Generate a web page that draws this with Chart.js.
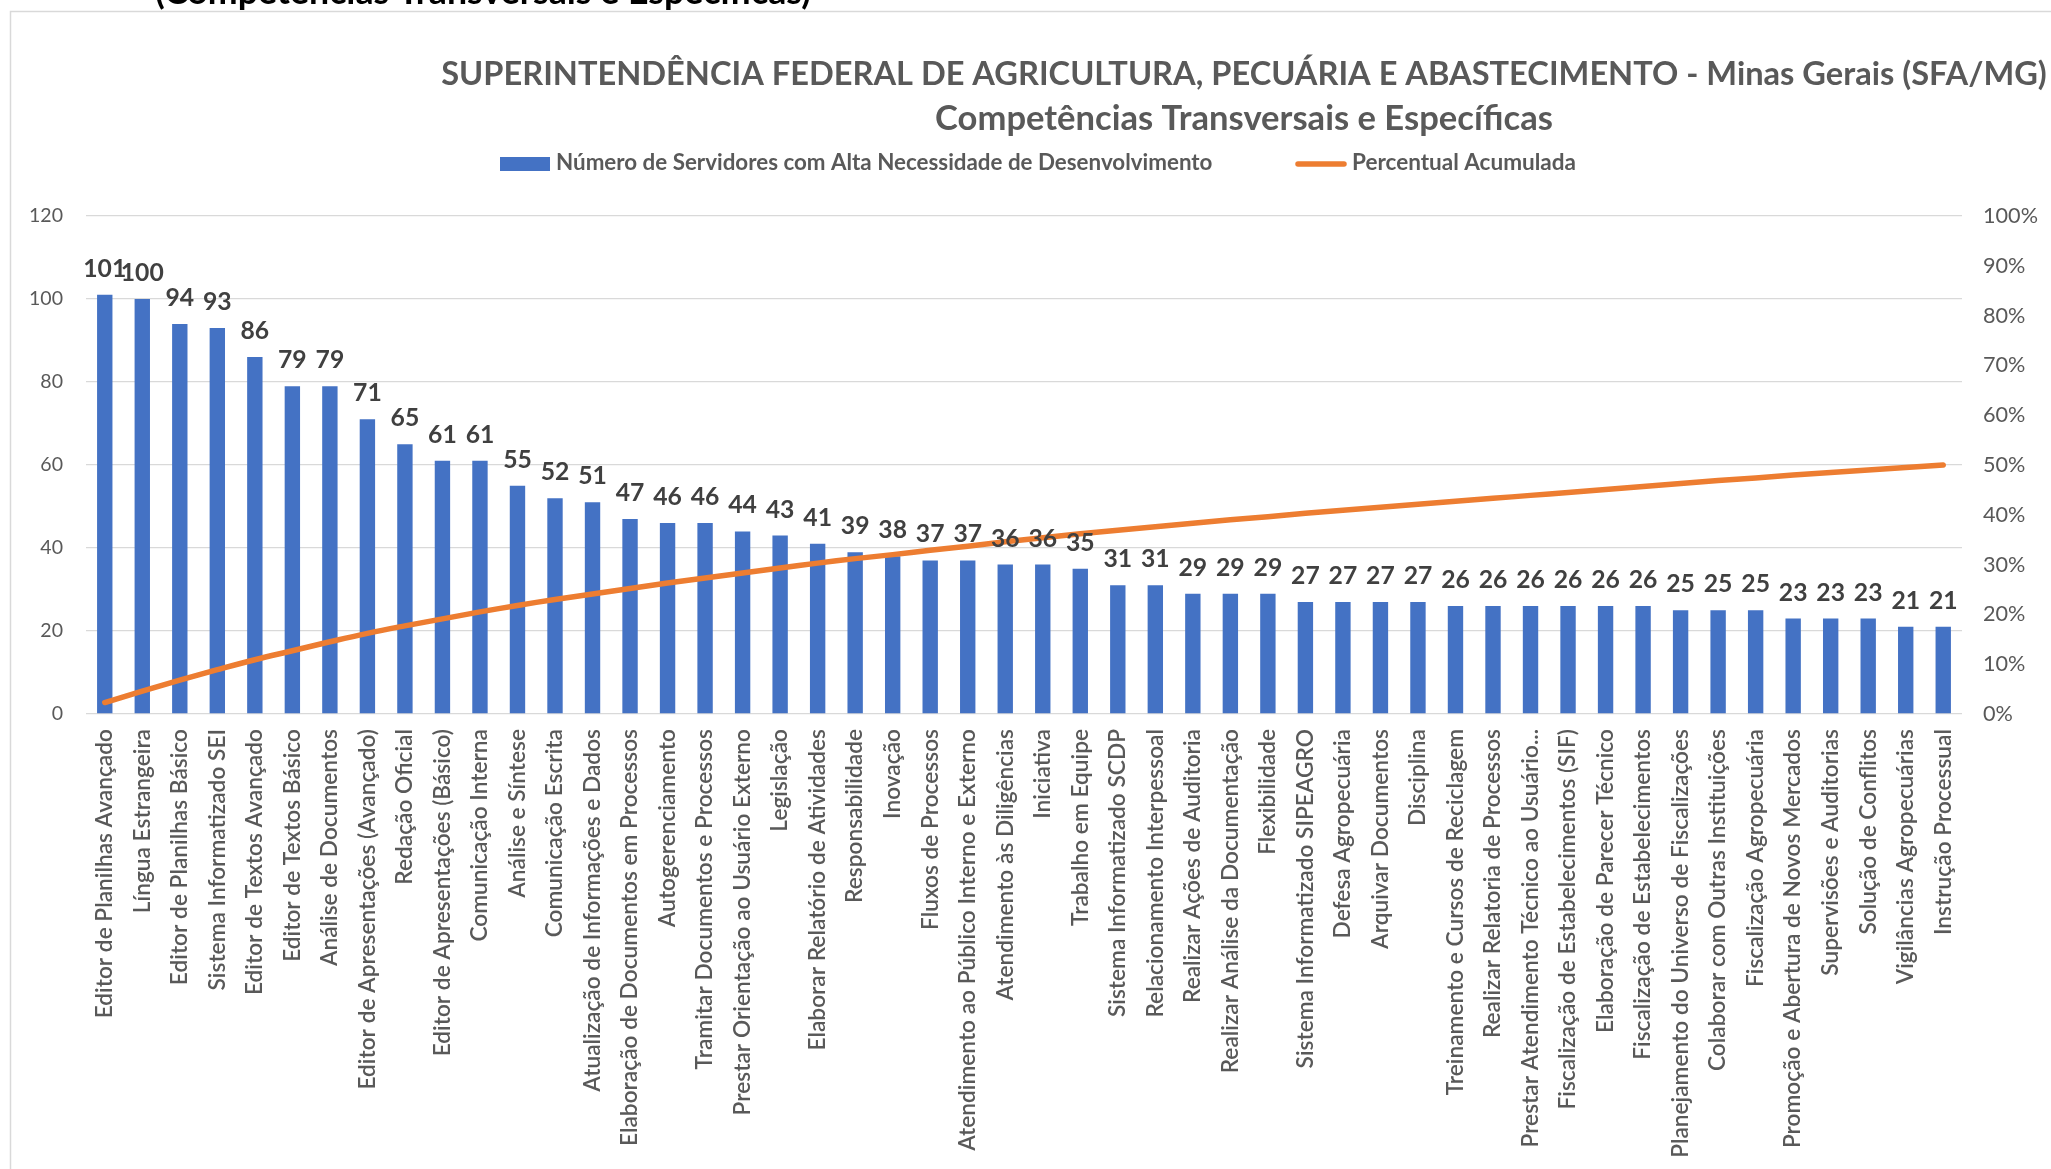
<!DOCTYPE html>
<html>
<head>
<meta charset="utf-8">
<script src="https://cdn.jsdelivr.net/npm/chart.js@4.4.1/dist/chart.umd.min.js"></script>
<style>
html,body{margin:0;padding:0;background:#fff;overflow:hidden;}
#wrap{position:relative;width:2051px;height:1169px;}
</style>
</head>
<body>
<div id="wrap"><canvas id="c"></canvas></div>
<script>
const categories = [
  "Editor de Planilhas Avançado","Língua Estrangeira","Editor de Planilhas Básico","Sistema Informatizado SEI",
  "Editor de Textos Avançado","Editor de Textos Básico","Análise de Documentos","Editor de Apresentações (Avançado)",
  "Redação Oficial","Editor de Apresentações (Básico)","Comunicação Interna","Análise e Síntese",
  "Comunicação Escrita","Atualização de Informações e Dados","Elaboração de Documentos em Processos","Autogerenciamento",
  "Tramitar Documentos e Processos","Prestar Orientação ao Usuário Externo","Legislação","Elaborar Relatório de Atividades",
  "Responsabilidade","Inovação","Fluxos de Processos","Atendimento ao Público Interno e Externo",
  "Atendimento às Diligências","Iniciativa","Trabalho em Equipe","Sistema Informatizado SCDP",
  "Relacionamento Interpessoal","Realizar Ações de Auditoria","Realizar Análise da Documentação","Flexibilidade",
  "Sistema Informatizado SIPEAGRO","Defesa Agropecuária","Arquivar Documentos","Disciplina",
  "Treinamento e Cursos de Reciclagem","Realizar Relatoria de Processos","Prestar Atendimento Técnico ao Usuário...","Fiscalização de Estabelecimentos (SIF)",
  "Elaboração de Parecer Técnico","Fiscalização de Estabelecimentos","Planejamento do Universo de Fiscalizações","Colaborar com Outras Instituições",
  "Fiscalização Agropecuária","Promoção e Abertura de Novos Mercados","Supervisões e Auditorias","Solução de Conflitos",
  "Vigilâncias Agropecuárias","Instrução Processual"
];
const servidores = [101,100,94,93,86,79,79,71,65,61,61,55,52,51,47,46,46,44,43,41,39,38,37,37,36,36,35,31,31,29,29,29,27,27,27,27,26,26,26,26,26,26,25,25,25,23,23,23,21,21];
const percentualAcumulado = [2.3,4.6,6.8,8.9,10.9,12.7,14.5,16.2,17.7,19.1,20.5,21.8,23.0,24.1,25.2,26.3,27.3,28.3,29.3,30.3,31.2,32.0,32.9,33.7,34.6,35.4,36.2,36.9,37.6,38.3,39.0,39.6,40.3,40.9,41.5,42.1,42.7,43.3,43.9,44.5,45.1,45.7,46.3,46.9,47.4,48.0,48.5,49.0,49.5,50.0];
const titleLines = ["SUPERINTENDÊNCIA FEDERAL DE AGRICULTURA, PECUÁRIA E ABASTECIMENTO - Minas Gerais (SFA/MG)","Competências Transversais e Específicas"];
const legendLabels = ["Número de Servidores com Alta Necessidade de Desenvolvimento","Percentual Acumulada"];
const topCutText = "(Competências Transversais e Específicas)";

const FONT = 'Lato, "Open Sans", "DejaVu Sans", sans-serif';
const mctx = document.createElement('canvas').getContext('2d');
function fit(text, weight, target){
  mctx.font = weight + ' 100px ' + FONT;
  return 100 * target / mctx.measureText(text).width;
}
const sTitle1 = fit(titleLines[0], 'bold', 1606);
const sTitle2 = fit(titleLines[1], 'bold', 618);
const sLeg1 = fit(legendLabels[0], 'bold', 657);
const sLeg2 = fit(legendLabels[1], 'bold', 224);
const sX = fit('Atendimento ao Público Interno e Externo', '600', 422);
const sData = fit('101', 'bold', 43);
const sY = fit('120', 'normal', 34);
const sY1 = fit('100%', 'normal', 55);
const sCut = fit(topCutText, 'bold', 656);

const BLUE = '#4472C4', ORANGE = '#ED7D31', GREY = '#595959';

const decorPlugin = {
  id: 'decor',
  beforeDraw(chart){
    const c = chart.ctx;
    c.save();
    c.fillStyle = '#fff';
    c.fillRect(0,0,chart.width,chart.height);
    c.strokeStyle = '#d9d9d9';
    c.lineWidth = 1.5;
    c.strokeRect(10.5, 11.5, 4000, 4000);
    c.restore();
  },
  afterDraw(chart){
    const c = chart.ctx;
    c.save();
    c.fillStyle = '#000';
    c.textAlign = 'left';
    c.textBaseline = 'alphabetic';
    c.font = 'bold ' + sCut + 'px ' + FONT;
    c.fillText(topCutText, 155, 4);
    c.fillStyle = GREY;
    c.textAlign = 'center';
    c.font = 'bold ' + sTitle1 + 'px ' + FONT;
    c.fillText(titleLines[0], 1244, 85);
    c.font = 'bold ' + sTitle2 + 'px ' + FONT;
    c.fillText(titleLines[1], 1244, 130);
    c.fillStyle = BLUE;
    c.fillRect(500, 157, 50, 14);
    c.fillStyle = GREY;
    c.textAlign = 'left';
    c.font = 'bold ' + sLeg1 + 'px ' + FONT;
    c.fillText(legendLabels[0], 556, 170);
    c.strokeStyle = ORANGE;
    c.lineWidth = 5.5;
    c.lineCap = 'round';
    c.beginPath();
    c.moveTo(1298, 164);
    c.lineTo(1344, 164);
    c.stroke();
    c.font = 'bold ' + sLeg2 + 'px ' + FONT;
    c.fillText(legendLabels[1], 1352, 170);
    c.restore();
  }
};

const dataLabelPlugin = {
  id: 'barValues',
  afterDatasetsDraw(chart){
    const meta = chart.getDatasetMeta(1);
    const c = chart.ctx;
    c.save();
    c.font = 'bold ' + sData + 'px ' + FONT;
    c.fillStyle = '#404040';
    c.textAlign = 'center';
    c.textBaseline = 'alphabetic';
    meta.data.forEach((el, i) => {
      c.fillText(String(servidores[i]), el.x, el.y - 18);
    });
    c.restore();
  }
};

new Chart(document.getElementById('c'), {
  data: {
    labels: categories,
    datasets: [
      {
        type: 'line', label: legendLabels[1], data: percentualAcumulado, yAxisID: 'y1',
        borderColor: ORANGE, backgroundColor: ORANGE, borderWidth: 5.5, pointRadius: 0,
        tension: 0.4, borderCapStyle: 'round', borderJoinStyle: 'round', order: 0
      },
      {
        type: 'bar', label: legendLabels[0], data: servidores, yAxisID: 'y',
        backgroundColor: BLUE, barPercentage: 0.41, categoryPercentage: 1, order: 1
      }
    ]
  },
  options: {
    responsive: true,
    maintainAspectRatio: false,
    animation: false,
    layout: { padding: { top: 216, left: 0, right: 0, bottom: 0 } },
    plugins: { legend: { display: false }, title: { display: false }, tooltip: { enabled: false } },
    scales: {
      x: {
        grid: { display: false, drawTicks: false },
        border: { display: false },
        ticks: { autoSkip: false, maxRotation: 90, minRotation: 90, padding: 15, color: GREY,
                 font: { family: FONT, size: sX, weight: '600' } },
        afterFit(s){ s.height = 455; }
      },
      y: {
        position: 'left', min: 0, max: 120,
        ticks: { stepSize: 20, padding: 23, color: GREY, font: { family: FONT, size: sY } },
        grid: { color: '#d9d9d9', lineWidth: 1.3, drawTicks: false },
        border: { display: false },
        afterFit(s){ s.width = 86; }
      },
      y1: {
        position: 'right', min: 0, max: 100,
        ticks: { stepSize: 10, padding: 21, color: GREY, font: { family: FONT, size: sY1 },
                 callback: v => v + '%' },
        grid: { display: false, drawTicks: false },
        border: { display: false },
        afterFit(s){ s.width = 89; }
      }
    }
  },
  plugins: [decorPlugin, dataLabelPlugin]
});
</script>
</body>
</html>
